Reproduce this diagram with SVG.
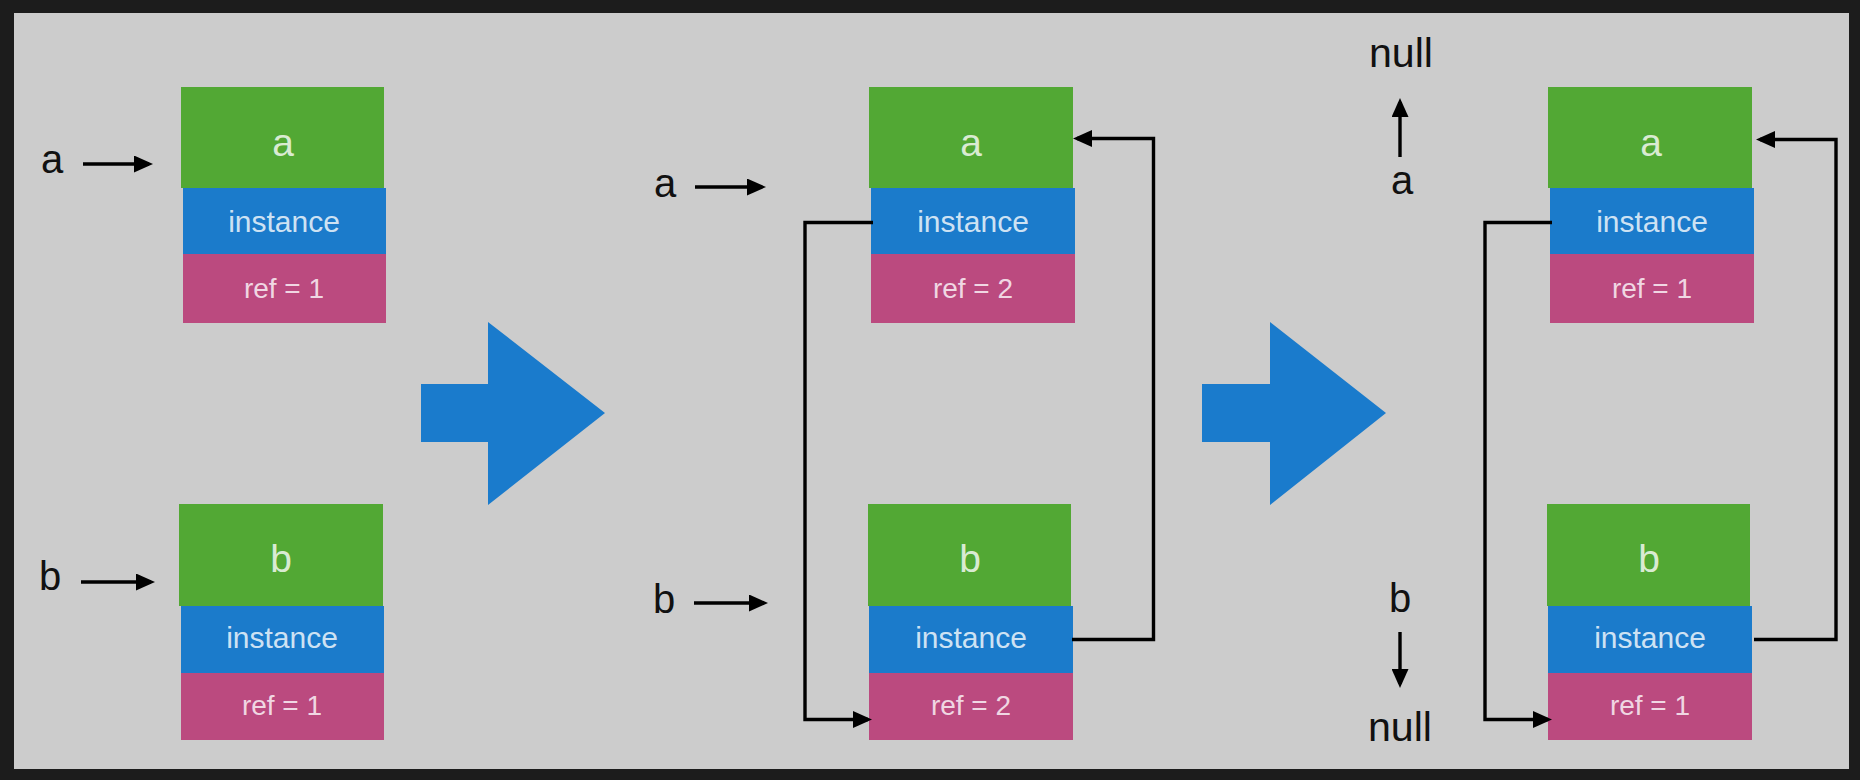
<svg xmlns="http://www.w3.org/2000/svg" width="1860" height="780" viewBox="0 0 1860 780">
  <style>
    .g { fill: #52a834; }
    .bl { fill: #1b7bcb; }
    .p { fill: #bb4a7f; }
    .in { font-family: "Liberation Sans", Arial, sans-serif; fill: #ffffff; fill-opacity: 0.8; text-anchor: middle; }
    .big { font-size: 39px; }
    .mid { font-size: 30px; }
    .ref { font-size: 28px; }
    .lbl { font-family: "Liberation Sans", Arial, sans-serif; font-size: 40px; fill: #111111; text-anchor: middle; }
    .con { fill: none; stroke: #000000; stroke-width: 3.4; marker-end: url(#ah); }
    .flow { fill: #1a7bcc; }
  </style>
  <defs>
    <marker id="ah" markerUnits="userSpaceOnUse" viewBox="0 0 19 17" markerWidth="19" markerHeight="17" refX="15" refY="8.5" orient="auto">
      <path d="M0,0 L19,8.5 L0,17 z" fill="#000000"/>
    </marker>
  </defs>

  <rect x="0" y="0" width="1860" height="780" fill="#1c1c1c"/>
  <rect x="14" y="13" width="1835" height="756" fill="#cccccc"/>

  <!-- big transition arrows -->
  <g id="step-arrow-1">
    <polygon class="flow" points="421,384 488,384 488,322 605,413 488,505 488,442 421,442"/>
  </g>
  <g id="step-arrow-2">
    <polygon class="flow" points="1202,384 1270,384 1270,322 1386,413 1270,505 1270,442 1202,442"/>
  </g>

  <!-- Panel 1 -->
  <g id="p1-obj-a">
    <rect class="g" x="181" y="87" width="203" height="101"/>
    <rect class="bl" x="183" y="188" width="203" height="66"/>
    <rect class="p" x="183" y="254" width="203" height="69"/>
    <text class="in big" x="283" y="156">a</text>
    <text class="in mid" x="284" y="232">instance</text>
    <text class="in ref" x="284" y="298">ref = 1</text>
  </g>
  <g id="p1-obj-b">
    <rect class="g" x="179" y="504" width="204" height="102"/>
    <rect class="bl" x="181" y="606" width="203" height="67"/>
    <rect class="p" x="181" y="673" width="203" height="67"/>
    <text class="in big" x="281" y="572">b</text>
    <text class="in mid" x="282" y="648">instance</text>
    <text class="in ref" x="282" y="715">ref = 1</text>
  </g>
  <g id="p1-var-a"><text class="lbl" x="52" y="173">a</text></g>
  <g id="p1-var-b"><text class="lbl" x="50" y="590">b</text></g>

  <!-- Panel 2 -->
  <g id="p2-obj-a">
    <rect class="g" x="869" y="87" width="204" height="101"/>
    <rect class="bl" x="871" y="188" width="204" height="66"/>
    <rect class="p" x="871" y="254" width="204" height="69"/>
    <text class="in big" x="971" y="156">a</text>
    <text class="in mid" x="973" y="232">instance</text>
    <text class="in ref" x="973" y="298">ref = 2</text>
  </g>
  <g id="p2-obj-b">
    <rect class="g" x="868" y="504" width="203" height="102"/>
    <rect class="bl" x="869" y="606" width="204" height="67"/>
    <rect class="p" x="869" y="673" width="204" height="67"/>
    <text class="in big" x="970" y="572">b</text>
    <text class="in mid" x="971" y="648">instance</text>
    <text class="in ref" x="971" y="715">ref = 2</text>
  </g>
  <g id="p2-var-a"><text class="lbl" x="665" y="197">a</text></g>
  <g id="p2-var-b"><text class="lbl" x="664" y="613">b</text></g>

  <!-- Panel 3 -->
  <g id="p3-obj-a">
    <rect class="g" x="1548" y="87" width="204" height="101"/>
    <rect class="bl" x="1550" y="188" width="204" height="66"/>
    <rect class="p" x="1550" y="254" width="204" height="69"/>
    <text class="in big" x="1651" y="156">a</text>
    <text class="in mid" x="1652" y="232">instance</text>
    <text class="in ref" x="1652" y="298">ref = 1</text>
  </g>
  <g id="p3-obj-b">
    <rect class="g" x="1547" y="504" width="203" height="102"/>
    <rect class="bl" x="1548" y="606" width="204" height="67"/>
    <rect class="p" x="1548" y="673" width="204" height="67"/>
    <text class="in big" x="1649" y="572">b</text>
    <text class="in mid" x="1650" y="648">instance</text>
    <text class="in ref" x="1650" y="715">ref = 1</text>
  </g>
  <g id="p3-null-top"><text class="lbl" x="1401" y="67" textLength="64" lengthAdjust="spacingAndGlyphs">null</text></g>
  <g id="p3-var-a"><text class="lbl" x="1402" y="194">a</text></g>
  <g id="p3-var-b"><text class="lbl" x="1400" y="612">b</text></g>
  <g id="p3-null-bottom"><text class="lbl" x="1400" y="741" textLength="64" lengthAdjust="spacingAndGlyphs">null</text></g>

  <!-- connectors -->
  <g id="connectors">
    <path class="con" d="M83,164 H149"/>
    <path class="con" d="M81,582 H151"/>
    <path class="con" d="M695,187 H762"/>
    <path class="con" d="M694,603 H764"/>
    <path class="con" d="M873,222.5 H805 V719.5 H868"/>
    <path class="con" d="M1072,639.5 H1153.5 V138.5 H1077"/>
    <path class="con" d="M1400,157 V102"/>
    <path class="con" d="M1400,632 V684"/>
    <path class="con" d="M1552,222.5 H1485 V719.5 H1548"/>
    <path class="con" d="M1754,639.5 H1836 V139.5 H1760"/>
  </g>
</svg>
